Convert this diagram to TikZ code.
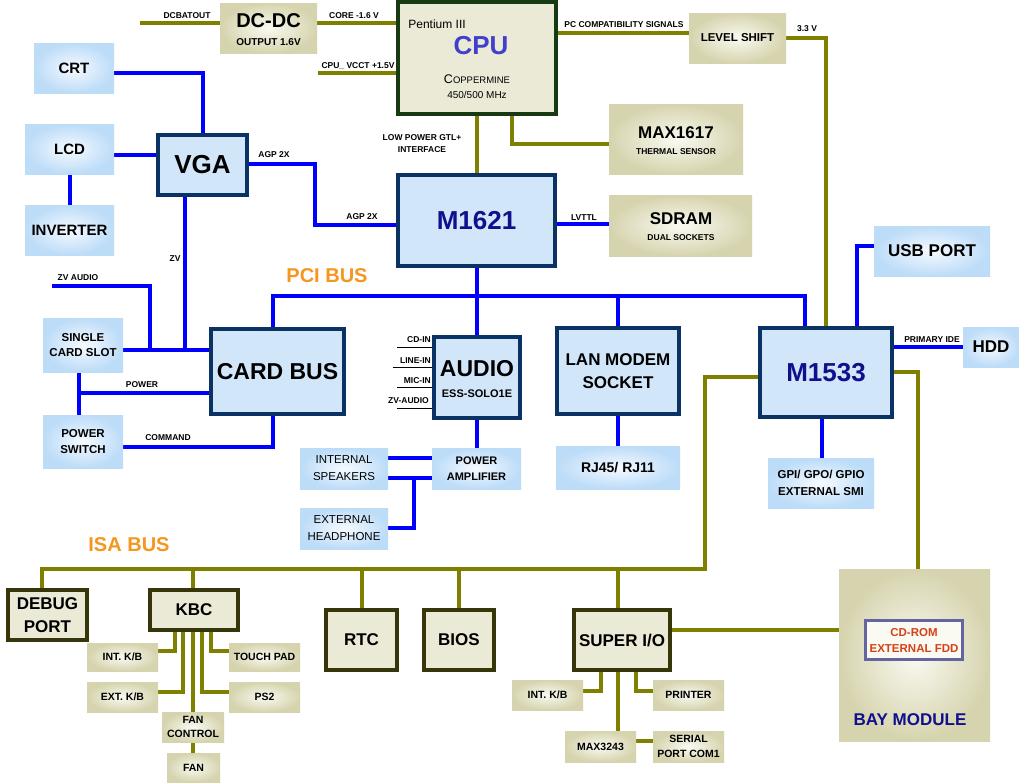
\documentclass[tikz,border=0pt]{standalone}
\usepackage{fontspec}
\setmainfont{Liberation Sans}
\usetikzlibrary{calc}
\definecolor{bl}{RGB}{0,0,255}
\definecolor{olv}{RGB}{128,128,0}
\definecolor{navy}{RGB}{10,50,100}
\definecolor{chipfill}{RGB}{210,230,250}
\definecolor{lbout}{RGB}{188,220,248}
\definecolor{lbin}{RGB}{246,250,255}
\definecolor{tnout}{RGB}{214,212,174}
\definecolor{tnin}{RGB}{250,250,242}
\definecolor{isafill}{RGB}{235,234,214}
\definecolor{isaedge}{RGB}{54,54,10}
\definecolor{cpuedge}{RGB}{24,58,18}
\definecolor{cputxt}{RGB}{64,64,204}
\definecolor{chiptxt}{RGB}{16,16,140}
\definecolor{busorange}{RGB}{247,150,30}
\definecolor{cdred}{RGB}{214,64,24}
\definecolor{slate}{RGB}{100,100,160}
\newcommand\fs[2]{\fontsize{#1}{#2}\selectfont}
\newcommand\bx[7]{\node[#1, minimum width={(#5)-(#3)}, minimum height={(#6)-(#4)}] (#2) at ({((#3)+(#5))/2},{((#4)+(#6))/2}) {#7};}
\pgfdeclarelayer{bg}
\pgfsetlayers{bg,main}
\tikzset{
 box/.style={rectangle, inner sep=0pt, align=center, font=\bfseries},
 lbox/.style={box, inner color=lbin, outer color=lbout},
 tbox/.style={box, inner color=tnin, outer color=tnout},
 nbox/.style={box, draw=navy, line width=4pt, fill=chipfill},
 obox/.style={box, draw=isaedge, line width=4pt, fill=isafill},
 bw/.style={draw=bl, line width=4pt},
 ow/.style={draw=olv, line width=4pt},
 lab/.style={inner sep=0pt, font=\bfseries\fs{8.5}{10}},
 txt/.style={inner sep=0pt},
}
\begin{document}
\begin{tikzpicture}[x=1pt,y=-1pt]
\useasboundingbox (0,0) rectangle (1019,782);
% ---------- top ----------
\bx{tbox}{dcdc}{220}{3}{317}{53}{}
\node[txt,font=\bfseries\fs{20}{20}] (dcdct) at (268.5,21) {DC-DC};
\node[txt,font=\bfseries\fs{10}{10}] (dcdcs) at (268.5,42) {OUTPUT 1.6V};
\bx{box,draw=cpuedge,line width=4pt,fill=isafill}{cpu}{398}{2}{556}{114}{}
\node[txt,font=\fs{12}{12}] (cput1) at (437,24) {Pentium III};
\node[txt,font=\bfseries\fs{26}{26},text=cputxt] (cput2) at (481,46) {CPU};
\node[txt] (cput3) at (477,79) {\fs{12.5}{12}C\fs{9.5}{10}OPPERMINE};
\node[txt,font=\fs{10}{10}] (cput4) at (477,94.5) {450/500 MHz};
\bx{tbox,font=\bfseries\fs{11.5}{12}}{lvl}{689}{13}{786}{63}{LEVEL SHIFT}
\bx{tbox}{max}{609}{104}{743}{174}{}
\node[txt,font=\bfseries\fs{17}{17}] (maxt) at (676,133) {MAX1617};
\node[txt,font=\bfseries\fs{8.5}{9}] (maxs) at (676,152) {THERMAL SENSOR};
\bx{tbox}{sdram}{609}{195}{752}{256}{}
\node[txt,font=\bfseries\fs{17}{17}] (sdramt) at (681,219) {SDRAM};
\node[txt,font=\bfseries\fs{8.5}{9}] (sdrams) at (681,238) {DUAL SOCKETS};
\bx{nbox,font=\bfseries\fs{26}{26},text=chiptxt}{m1621}{398}{175}{555}{266}{M1621}
% ---------- left ----------
\bx{lbox,font=\bfseries\fs{15}{16}}{crt}{34}{43}{114}{93}{CRT}
\bx{lbox,font=\bfseries\fs{15}{16}}{lcd}{25}{124}{114}{174}{LCD}
\bx{lbox,font=\bfseries\fs{15}{16}}{inv}{25}{205}{114}{255}{INVERTER}
\bx{nbox,font=\bfseries\fs{26}{26}}{vga}{158}{135}{247}{195}{VGA}
\bx{lbox,font=\bfseries\fs{11.5}{15}}{slot}{43}{318}{123}{372}{SINGLE\\CARD SLOT}
\bx{lbox,font=\bfseries\fs{11.5}{16}}{psw}{43}{415}{123}{468}{POWER\\SWITCH}
\bx{nbox,font=\bfseries\fs{23}{24}}{cardbus}{211}{329}{344}{414}{CARD BUS}
% ---------- middle ----------
\bx{nbox}{audio}{434}{337}{520}{418}{}
\node[txt,font=\bfseries\fs{23}{23}] (audiot) at (477,369) {AUDIO};
\node[txt,font=\bfseries\fs{11}{11}] (audios) at (477,393.5) {ESS-SOLO1E};
\bx{lbox,font=\bfseries\fs{11}{16}}{pa}{432}{448}{521}{489}{POWER\\AMPLIFIER}
\bx{lbox,font=\fs{11.5}{17}}{spk}{300}{448}{388}{489}{INTERNAL\\SPEAKERS}
\bx{lbox,font=\fs{11.5}{17}}{hp}{300}{508}{388}{549}{EXTERNAL\\HEADPHONE}
\bx{nbox,font=\bfseries\fs{17}{23}}{lan}{557}{328}{679}{414}{LAN MODEM\\SOCKET}
\bx{lbox,font=\bfseries\fs{14}{15}}{rj}{556}{446}{680}{489}{RJ45/ RJ11}
% ---------- right ----------
\bx{nbox,font=\bfseries\fs{26}{26},text=chiptxt}{m1533}{760}{328}{892}{417}{M1533}
\bx{lbox,font=\bfseries\fs{17}{18}}{hdd}{963}{327}{1019}{367}{HDD}
\bx{lbox,font=\bfseries\fs{17}{18}}{usb}{874}{226}{990}{276}{USB PORT}
\bx{lbox,font=\bfseries\fs{11.5}{17}}{gpi}{768}{458}{874}{508}{GPI/ GPO/ GPIO\\EXTERNAL SMI}
% ---------- ISA ----------
\bx{obox,font=\bfseries\fs{17}{23.5}}{debug}{8}{590}{87}{640}{DEBUG\\PORT}
\bx{obox,font=\bfseries\fs{17}{18}}{kbc}{150}{590}{238}{630}{KBC}
\bx{obox,font=\bfseries\fs{17}{18}}{rtc}{326}{610}{397}{670}{RTC}
\bx{obox,font=\bfseries\fs{17}{18}}{bios}{424}{610}{494}{670}{BIOS}
\bx{obox,font=\bfseries\fs{17}{18}}{sio}{574}{610}{670}{670}{SUPER I/O}
\bx{tbox,font=\bfseries\fs{10.5}{11}}{ikb}{87}{643}{158}{671}{INT. K/B}
\bx{tbox,font=\bfseries\fs{10.5}{11}}{ekb}{87}{682}{158}{712}{EXT. K/B}
\bx{tbox,font=\bfseries\fs{10.5}{14}}{fanc}{162}{712}{224}{742}{FAN\\CONTROL}
\bx{tbox,font=\bfseries\fs{10.5}{11}}{fan}{167}{753}{220}{782}{FAN}
\bx{tbox,font=\bfseries\fs{10.5}{11}}{tp}{229}{643}{300}{671}{TOUCH PAD}
\bx{tbox,font=\bfseries\fs{10.5}{11}}{ps2}{229}{682}{300}{712}{PS2}
\bx{tbox,font=\bfseries\fs{10.5}{11}}{sikb}{512}{680}{583}{710}{INT. K/B}
\bx{tbox,font=\bfseries\fs{10.5}{11}}{prn}{653}{680}{724}{710}{PRINTER}
\bx{tbox,font=\bfseries\fs{10.5}{11}}{max3}{565}{731}{636}{762}{MAX3243}
\bx{tbox,font=\bfseries\fs{10.5}{15}}{ser}{653}{731}{724}{762}{SERIAL\\PORT COM1}
\bx{tbox}{bay}{839}{569}{990}{741}{}
\bx{box,draw=slate,line width=3pt,fill=tnin,text=cdred,font=\bfseries\fs{11.5}{16}}{cdrom}{865.5}{620.5}{962.5}{659.5}{CD-ROM\\EXTERNAL FDD}
\node[txt,font=\bfseries\fs{17}{18},text=chiptxt] (baylab) at (910,720) {BAY MODULE};
% ---------- labels ----------
\node[txt,font=\bfseries\fs{20}{20},text=busorange] (pcilab) at (327,275.5) {PCI BUS};
\node[txt,font=\bfseries\fs{20}{20},text=busorange] (isalab) at (129,545) {ISA BUS};
\node[lab] (l1) at (187,15.5) {DCBATOUT};
\node[lab] (l2) at (354,15.5) {CORE -1.6 V};
\node[lab] (l3) at (358,66.5) {CPU\_ VCCT +1.5V};
\node[lab] (l4) at (624,25) {PC COMPATIBILITY SIGNALS};
\node[lab] (l5) at (807,29) {3.3 V};
\node[lab,align=center,font=\bfseries\fs{8.5}{12}] (l6) at (422,144) {LOW POWER GTL+\\INTERFACE};
\node[lab] (l7) at (274,155) {AGP 2X};
\node[lab] (l8) at (362,217) {AGP 2X};
\node[lab] (l9) at (584,218) {LVTTL};
\node[lab] (l10) at (175,259) {ZV};
\node[lab] (l11) at (78,278) {ZV AUDIO};
\node[lab] (l12) at (142,385) {POWER};
\node[lab] (l13) at (168,438) {COMMAND};
\node[lab] (l14) at (932,339.5) {PRIMARY IDE};
\node[lab,anchor=east] (cdin) at (431,340) {CD-IN};
\node[lab,anchor=east] (linein) at (431,361) {LINE-IN};
\node[lab,anchor=east] (micin) at (431,381) {MIC-IN};
\node[lab,anchor=east] (zvaud) at (429,401) {ZV-AUDIO};
% ---------- connectors ----------
\begin{pgfonlayer}{bg}
\fill[white] (0,0) rectangle (1019,782);
\coordinate (dcbat) at (140,23);
\coordinate (vcct) at (318,73);
\coordinate (zva) at (52,286);
\draw[ow] (dcbat) -- (dcdc.west |- 0,23);
\draw[ow] (dcdc.east |- 0,23) -- (cpu.west |- 0,23);
\draw[ow] (vcct) -- (cpu.west |- 0,73);
\draw[ow] (cpu.east |- 0,33) -- (lvl.west |- 0,33);
\draw[ow] (lvl.east |- 0,38) -| (m1533.north -| 826,0);
\draw[ow] (cpu.south -| 512,0) |- (max.west |- 0,144);
\draw[ow] (cpu.south -| 477,0) -- (m1621.north -| 477,0);
\draw[bw] (m1621.east |- 0,224) -- (sdram.west |- 0,224);
\draw[bw] (crt.east |- 0,73) -| (vga.north -| 203,0);
\draw[bw] (lcd.east |- 0,155) -- (vga.west |- 0,155);
\draw[bw] (lcd.south -| 70,0) -- (inv.north -| 70,0);
\draw[bw] (vga.east |- 0,164) -| (315,225) -- (m1621.west |- 0,225);
\draw[bw] (vga.south -| 185,0) -- (185,350);
\draw[bw] (zva) -| (150,350);
\draw[bw] (slot.east |- 0,350) -- (cardbus.west |- 0,350);
\draw[bw] (slot.south -| 79,0) -- (psw.north -| 79,0);
\draw[bw] (79,393) -- (cardbus.west |- 0,393);
\draw[bw] (psw.east |- 0,447) -| (cardbus.south -| 273,0);
\draw[bw] (cardbus.north -| 273,0) |- (805,296) -- (m1533.north -| 805,0);
\draw[bw] (m1621.south -| 477,0) -- (audio.north -| 477,0);
\draw[bw] (618,296) -- (lan.north -| 618,0);
\draw[bw] (lan.south -| 618,0) -- (rj.north -| 618,0);
\draw[bw] (audio.south -| 477,0) -- (pa.north -| 477,0);
\draw[bw] (spk.east |- 0,458) -- (pa.west |- 0,458);
\draw[bw] (spk.east |- 0,478) -- (pa.west |- 0,478);
\draw[bw] (hp.east |- 0,528) -| (414,478);
\draw[bw] (usb.west |- 0,246) -| (m1533.north -| 857,0);
\draw[bw] (m1533.east |- 0,347) -- (hdd.west |- 0,347);
\draw[bw] (m1533.south -| 822,0) -- (gpi.north -| 822,0);
\draw[ow] (debug.north -| 42,0) |- (705,569) |- (m1533.west |- 0,377);
\draw[ow] (m1533.east |- 0,372) -| (bay.north -| 918,0);
\draw[ow] (193,569) -- (kbc.north -| 193,0);
\draw[ow] (362,569) -- (rtc.north -| 362,0);
\draw[ow] (459,569) -- (bios.north -| 459,0);
\draw[ow] (618,569) -- (sio.north -| 618,0);
\draw[ow] (sio.east |- 0,630) -- (bay.west |- 0,630);
\draw[ow] (kbc.south -| 175,0) |- (ikb.east |- 0,651);
\draw[ow] (kbc.south -| 183,0) |- (ekb.east |- 0,692);
\draw[ow] (kbc.south -| 193,0) -- (fanc.north -| 193,0);
\draw[ow] (fanc.south -| 193,0) -- (fan.north -| 193,0);
\draw[ow] (kbc.south -| 211,0) |- (tp.west |- 0,651);
\draw[ow] (kbc.south -| 202,0) |- (ps2.west |- 0,692);
\draw[ow] (sio.south -| 601,0) |- (sikb.east |- 0,691);
\draw[ow] (sio.south -| 636,0) |- (prn.west |- 0,691);
\draw[ow] (sio.south -| 618,0) -- (max3.north -| 618,0);
\draw[ow] (max3.east |- 0,741) -- (ser.west |- 0,741);
\draw[black,line width=0.8pt] (397,347) -- (audio.west |- 0,347);
\draw[black,line width=0.8pt] (393,367) -- (audio.west |- 0,367);
\draw[black,line width=0.8pt] (397,387) -- (audio.west |- 0,387);
\draw[black,line width=0.8pt] (397,408) -- (audio.west |- 0,408);
\end{pgfonlayer}
\end{tikzpicture}
\end{document}
